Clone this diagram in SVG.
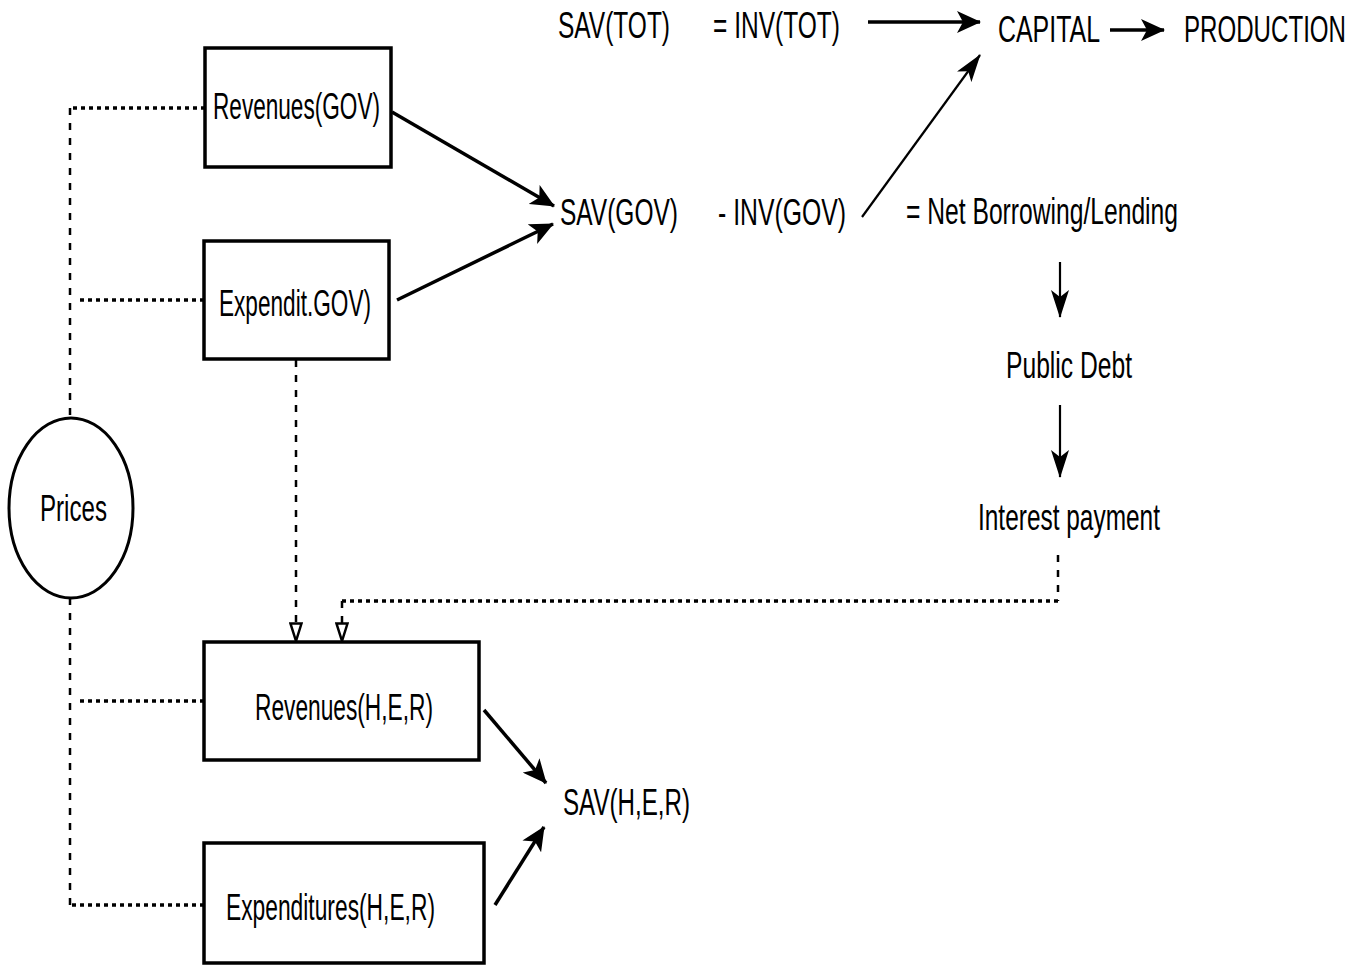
<svg xmlns="http://www.w3.org/2000/svg" width="1365" height="965" viewBox="0 0 1365 965">
<style>
text{font-family:"Liberation Sans",Arial,sans-serif;font-size:26px;fill:#000}
.box{fill:#fff;stroke:#000;stroke-width:3.5}
.arr{fill:none;stroke:#000;stroke-width:3.5;marker-end:url(#fa)}
.thin{fill:none;stroke:#000;stroke-width:2.2;marker-end:url(#ft)}
.dot{fill:none;stroke:#000;stroke-width:3.5;stroke-dasharray:4 4}
.dash{fill:none;stroke:#000;stroke-width:2.5;stroke-dasharray:7 8}
.open{fill:none;stroke:#000;stroke-width:2.5;stroke-dasharray:7 8;marker-end:url(#oa)}
</style>
<defs>
<marker id="fa" viewBox="0 0 24 22" refX="23" refY="11" markerWidth="24" markerHeight="22" markerUnits="userSpaceOnUse" orient="auto">
<path d="M0,0 L24,11 L0,22 L6,11 Z" fill="#000"/>
</marker>
<marker id="ft" viewBox="0 0 28 18" refX="27" refY="9" markerWidth="28" markerHeight="18" markerUnits="userSpaceOnUse" orient="auto">
<path d="M0,0 L28,9 L0,18 L7,9 Z" fill="#000"/>
</marker>
<marker id="oa" viewBox="0 0 20 14" refX="19" refY="7" markerWidth="20" markerHeight="14" markerUnits="userSpaceOnUse" orient="auto">
<path d="M1.5,1.5 L19,7 L1.5,12.5 Z" fill="#fff" stroke="#000" stroke-width="2.5" stroke-dasharray="none"/>
</marker>
</defs>

<g id="connectors">
<line class="arr" x1="868" y1="22" x2="980" y2="22"/>
<line class="arr" x1="1110" y1="30" x2="1164" y2="30"/>
<line class="arr" x1="392" y1="112" x2="554" y2="206"/>
<line class="arr" x1="397" y1="300" x2="553" y2="224"/>
<line class="thin" x1="862" y1="217" x2="980" y2="55"/>
<line class="thin" x1="1060" y1="262" x2="1060" y2="317"/>
<line class="thin" x1="1060" y1="405" x2="1060" y2="477"/>
<line class="arr" x1="484" y1="710" x2="546" y2="783"/>
<line class="arr" x1="495" y1="905" x2="544" y2="827"/>
<path class="dot" d="M205,108 H70"/>
<path class="dash" d="M70,108 V418"/>
<path class="dot" d="M204,300 H78"/>
<path class="dash" d="M70,598 V905"/>
<path class="dot" d="M204,701 H78"/>
<path class="dot" d="M204,905 H70"/>
<path class="open" d="M296,360 V641"/>
<path class="dash" d="M1058,555 V601"/>
<path class="dot" d="M1058,601 H342"/>
<path class="open" d="M342,601 V641"/>
</g>

<g id="sav-tot"><text x="558" y="38" style="transform-origin:0 38px" transform="scale(1,1.4)" textLength="112" lengthAdjust="spacingAndGlyphs">SAV(TOT)</text></g>
<g id="inv-tot"><text x="713" y="38" style="transform-origin:0 38px" transform="scale(1,1.4)" textLength="127" lengthAdjust="spacingAndGlyphs">= INV(TOT)</text></g>
<g id="capital"><text x="998" y="42" style="transform-origin:0 42px" transform="scale(1,1.4)" textLength="102" lengthAdjust="spacingAndGlyphs">CAPITAL</text></g>
<g id="production"><text x="1184" y="42" style="transform-origin:0 42px" transform="scale(1,1.4)" textLength="162" lengthAdjust="spacingAndGlyphs">PRODUCTION</text></g>

<g id="revenues-gov">
<rect class="box" x="205" y="48" width="186" height="119"/>
<text x="213" y="119" style="transform-origin:0 119px" transform="scale(1,1.4)" textLength="167" lengthAdjust="spacingAndGlyphs">Revenues(GOV)</text>
</g>
<g id="expendit-gov">
<rect class="box" x="204" y="241" width="185" height="118"/>
<text x="219" y="316" style="transform-origin:0 316px" transform="scale(1,1.4)" textLength="152" lengthAdjust="spacingAndGlyphs">Expendit.GOV)</text>
</g>

<g id="sav-gov"><text x="560" y="225" style="transform-origin:0 225px" transform="scale(1,1.4)" textLength="118" lengthAdjust="spacingAndGlyphs">SAV(GOV)</text></g>
<g id="inv-gov"><text x="718" y="225" style="transform-origin:0 225px" transform="scale(1,1.4)" textLength="128" lengthAdjust="spacingAndGlyphs">- INV(GOV)</text></g>
<g id="net-borrowing"><text x="906" y="224" style="transform-origin:0 224px" transform="scale(1,1.4)" textLength="272" lengthAdjust="spacingAndGlyphs">= Net Borrowing/Lending</text></g>
<g id="public-debt"><text x="1006" y="378" style="transform-origin:0 378px" transform="scale(1,1.4)" textLength="126" lengthAdjust="spacingAndGlyphs">Public Debt</text></g>
<g id="interest-payment"><text x="978" y="530" style="transform-origin:0 530px" transform="scale(1,1.4)" textLength="182" lengthAdjust="spacingAndGlyphs">Interest payment</text></g>

<g id="prices">
<ellipse cx="71" cy="508" rx="62" ry="90" fill="#fff" stroke="#000" stroke-width="3"/>
<text x="40" y="521" style="transform-origin:0 521px" transform="scale(1,1.4)" textLength="67" lengthAdjust="spacingAndGlyphs">Prices</text>
</g>

<g id="revenues-her">
<rect class="box" x="204" y="642" width="275" height="118"/>
<text x="255" y="720" style="transform-origin:0 720px" transform="scale(1,1.4)" textLength="178" lengthAdjust="spacingAndGlyphs">Revenues(H,E,R)</text>
</g>
<g id="expenditures-her">
<rect class="box" x="204" y="843" width="280" height="120"/>
<text x="226" y="920" style="transform-origin:0 920px" transform="scale(1,1.4)" textLength="209" lengthAdjust="spacingAndGlyphs">Expenditures(H,E,R)</text>
</g>
<g id="sav-her"><text x="563" y="815" style="transform-origin:0 815px" transform="scale(1,1.4)" textLength="127" lengthAdjust="spacingAndGlyphs">SAV(H,E,R)</text></g>
</svg>
